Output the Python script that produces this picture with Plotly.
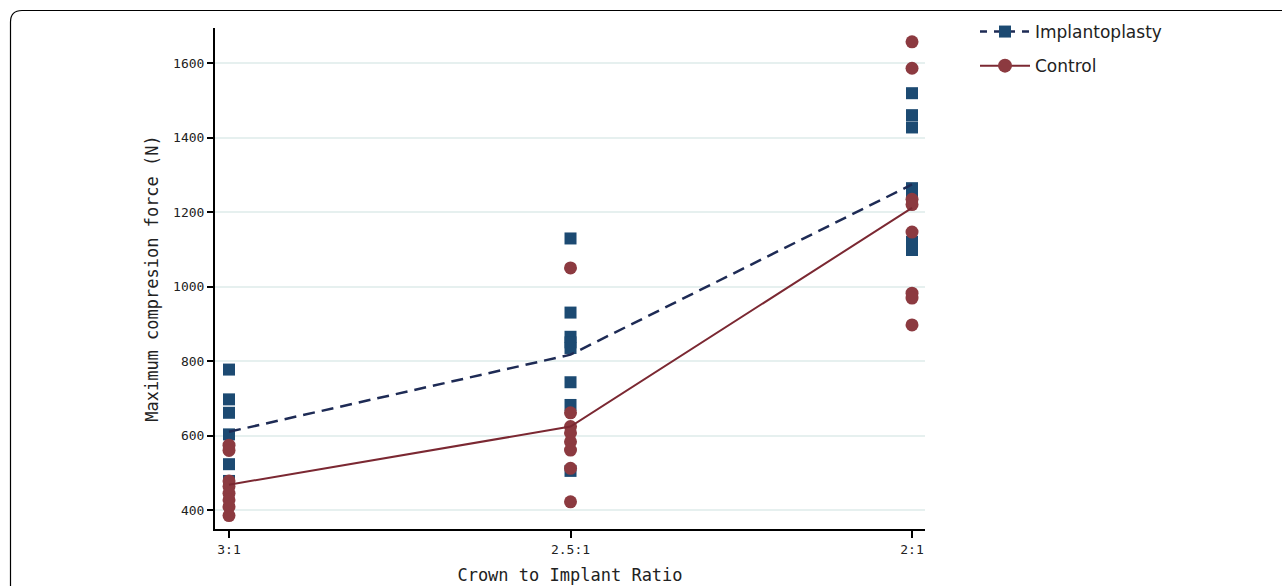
import plotly.graph_objects as go

categories = ["3:1", "2.5:1", "2:1"]
cat_pos = [0, 1, 2]

implant_x = ["3:1"] * 6 + ["2.5:1"] * 8 + ["2:1"] * 7
implant_y = [777, 697, 661, 603, 523, 478,
             1129, 930, 865, 850, 835, 743, 682, 505,
             1519, 1460, 1427, 1264, 1247, 1120, 1098]
control_x = ["3:1"] * 8 + ["2.5:1"] * 8 + ["2:1"] * 8
control_y = [574, 560, 478, 463, 445, 427, 409, 385,
             1050, 661, 624, 607, 583, 561, 512, 422,
             1657, 1586, 1234, 1220, 1146, 982, 969, 897]

# group means (lines)
implant_mean = [610, 817, 1274]
control_mean = [468, 624, 1211]

yticks = [400, 600, 800, 1000, 1200, 1400, 1600]

BLUE = "#1c4a72"
NAVY = "#1e2b55"
RED = "#8c3a40"
DRED = "#7b2832"
DASH = "12px,7px"

pos = {c: i for i, c in enumerate(categories)}

fig = go.Figure()
fig.add_trace(go.Scatter(x=[pos[c] for c in implant_x], y=implant_y, mode="markers",
                         marker=dict(symbol="square", size=12, color=BLUE),
                         showlegend=False, hoverinfo="y"))
fig.add_trace(go.Scatter(x=[pos[c] for c in control_x], y=control_y, mode="markers",
                         marker=dict(symbol="circle", size=13, color=RED),
                         showlegend=False, hoverinfo="y"))
fig.add_trace(go.Scatter(x=cat_pos, y=implant_mean, mode="lines",
                         line=dict(color=NAVY, width=2.5, dash=DASH),
                         showlegend=False))
fig.add_trace(go.Scatter(x=cat_pos, y=control_mean, mode="lines",
                         line=dict(color=DRED, width=2),
                         showlegend=False))
# legend entries
fig.add_trace(go.Scatter(x=[None], y=[None], mode="lines+markers", name="Implantoplasty",
                         legendgroup="a",
                         line=dict(color=NAVY, width=2.5, dash="7px,7px"),
                         marker=dict(symbol="square", size=12, color=BLUE)))
fig.add_trace(go.Scatter(x=[None], y=[None], mode="lines+markers", name="Control",
                         legendgroup="b",
                         line=dict(color=DRED, width=2),
                         marker=dict(symbol="circle", size=14, color=RED)))

L, R, T, B = 215, 357, 28, 57
W, H = 1282, 586
pw, ph = W - L - R, H - T - B


def px(x):
    return (x - L) / pw


def py(y):
    return (H - B - y) / ph


border = (f"M {px(10.5)} {py(620)} L {px(10.5)} {py(22)} "
          f"Q {px(10.5)} {py(10.5)} {px(22)} {py(10.5)} L {px(1320)} {py(10.5)}")

fig.update_layout(
    width=W, height=H,
    margin=dict(l=L, r=R, t=T, b=B, autoexpand=False),
    paper_bgcolor="white", plot_bgcolor="white",
    showlegend=True,
    legend=dict(x=px(975), y=py(14), xanchor="left", yanchor="top",
                font=dict(family="DejaVu Sans", size=17, color="#222"),
                itemwidth=50, tracegroupgap=9, bgcolor="rgba(0,0,0,0)"),
    xaxis=dict(range=[-0.041, 2.038], tickmode="array", tickvals=cat_pos, ticktext=categories,
               automargin=False,
               showgrid=False, zeroline=False, showline=True, linecolor="black", linewidth=2,
               ticks="outside", ticklen=7, tickwidth=2, tickcolor="black",
               tickfont=dict(family="DejaVu Sans Mono", size=13, color="#222"),
               title=dict(text="Crown to Implant Ratio", standoff=14,
                          font=dict(family="DejaVu Sans Mono", size=17, color="#222"))),
    yaxis=dict(range=[349, 1694], tickmode="array", tickvals=yticks,
               automargin=False,
               showgrid=True, gridcolor="#e6f0ef", gridwidth=1.5, zeroline=False,
               showline=True, linecolor="black", linewidth=2,
               ticks="outside", ticklen=6, tickwidth=2, tickcolor="black",
               tickfont=dict(family="DejaVu Sans Mono", size=13, color="#222"),
               title=dict(text="Maximum compresion force (N)", standoff=10,
                          font=dict(family="DejaVu Sans Mono", size=17, color="#222"))),
    shapes=[dict(type="path", xref="paper", yref="paper", path=border,
                 line=dict(color="black", width=1.2), layer="above")],
)

fig.write_html("out.html", config={"displayModeBar": False},
               post_script="document.body.style.margin='0';")
